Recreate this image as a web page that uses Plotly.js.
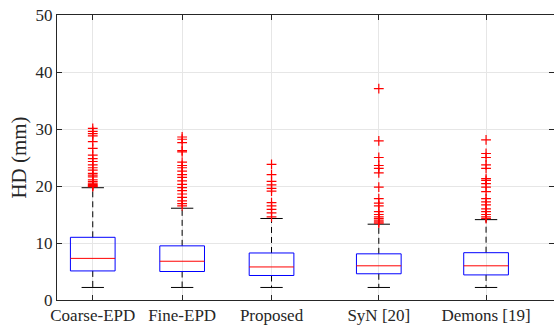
<!DOCTYPE html>
<html>
<head>
<meta charset="utf-8">
<script src="https://cdn.plot.ly/plotly-3.0.1.min.js"></script>
<style>html,body{margin:0;padding:0;background:#fff;}#chart{width:554px;height:326px;}</style>
</head>
<body>
<div id="chart"></div>
<script>
// ---- data ----
const categories = ['Coarse-EPD', 'Fine-EPD', 'Proposed', 'SyN [20]', 'Demons [19]'];
const xPos = [1, 2, 3, 4.2, 5.4];
const q1 = [5.1, 5.0, 4.3, 4.6, 4.4];
const medians = [7.3, 6.8, 5.8, 6.0, 6.0];
const q3 = [11.0, 9.5, 8.25, 8.1, 8.3];
const lowerWhisker = [2.2, 2.2, 2.2, 2.2, 2.2];
const upperWhisker = [19.7, 16.1, 14.3, 13.3, 14.1];
const outliersCoarse = [30.1, 29.6, 29.2, 28.8, 27.8, 26.6, 25.4, 24.8, 24.3, 23.7, 23.2, 22.8, 22.2, 21.9, 21.6, 21.1, 20.8, 20.5, 20.3, 20.1, 20.0, 19.9];
const outliersFine = [28.6, 28.2, 27.6, 26.2, 26.0, 24.2, 23.6, 23.2, 22.6, 22.0, 21.5, 20.9, 20.3, 19.7, 19.2, 18.6, 18.0, 17.4, 16.9, 16.5];
const outliersProposed = [23.8, 22.0, 20.8, 20.2, 19.6, 19.1, 17.1, 16.5, 15.9, 15.3, 14.6];
const outliersSyN = [37.1, 27.9, 25.0, 23.6, 23.1, 22.3, 19.8, 17.8, 17.0, 16.5, 15.5, 15.0, 14.6, 14.3, 14.0, 13.7, 13.5];
const outliersDemons = [28.1, 25.7, 25.0, 23.7, 23.1, 21.3, 21.0, 20.4, 19.8, 19.0, 17.8, 17.2, 16.7, 16.0, 15.5, 15.0, 14.6, 14.3];
const outliers = [outliersCoarse, outliersFine, outliersProposed, outliersSyN, outliersDemons];
const yTicks = [0, 10, 20, 30, 40, 50];

// ---- styles ----
const boxHalf = 0.25, capHalf = 0.125;
const serif = 'Liberation Serif, Times New Roman, serif';
const axisColor = '#262626';

const traces = [];
for (let i = 0; i < categories.length; i++) {
  const x = xPos[i];
  // whiskers (dashed)
  traces.push({x: [x, x, null, x, x], y: [q3[i], upperWhisker[i], null, q1[i], lowerWhisker[i]],
    mode: 'lines', line: {color: '#000', width: 1, dash: '6px,4px'}, hoverinfo: 'skip', showlegend: false});
  // caps
  traces.push({x: [x - capHalf, x + capHalf, null, x - capHalf, x + capHalf],
    y: [upperWhisker[i], upperWhisker[i], null, lowerWhisker[i], lowerWhisker[i]],
    mode: 'lines', line: {color: '#000', width: 1}, hoverinfo: 'skip', showlegend: false});
  // box
  traces.push({x: [x - boxHalf, x + boxHalf, x + boxHalf, x - boxHalf, x - boxHalf],
    y: [q1[i], q1[i], q3[i], q3[i], q1[i]],
    mode: 'lines', line: {color: '#0000ff', width: 1}, hoverinfo: 'skip', showlegend: false});
  // median
  traces.push({x: [x - boxHalf, x + boxHalf], y: [medians[i], medians[i]],
    mode: 'lines', line: {color: '#ff0000', width: 1}, hoverinfo: 'skip', showlegend: false});
  // outliers
  traces.push({x: outliers[i].map(() => x), y: outliers[i], mode: 'markers',
    marker: {symbol: 'cross-thin-open', size: 7, color: '#ff0000', line: {color: '#ff0000', width: 1.2}},
    hoverinfo: 'skip', showlegend: false});
}

const layout = {
  width: 554, height: 326,
  margin: {l: 57, r: 0, t: 15, b: 26, pad: 0},
  paper_bgcolor: '#fff', plot_bgcolor: '#fff',
  showlegend: false,
  xaxis: {
    range: [0.6, 6.16], tickmode: 'array', tickvals: xPos, ticktext: categories,
    showgrid: true, gridcolor: '#e6e6e6', gridwidth: 1, zeroline: false,
    showline: true, linecolor: axisColor, linewidth: 1, mirror: 'ticks',
    ticks: 'inside', ticklen: 5, tickcolor: axisColor,
    tickfont: {family: serif, size: 17, color: axisColor}
  },
  yaxis: {
    range: [0, 50], tickmode: 'array', tickvals: yTicks, ticktext: yTicks.map(String),
    showgrid: true, gridcolor: '#e6e6e6', gridwidth: 1, zeroline: false,
    showline: true, linecolor: axisColor, linewidth: 1, mirror: 'ticks',
    ticks: 'inside', ticklen: 5, tickcolor: axisColor,
    tickfont: {family: serif, size: 17, color: axisColor},
    title: {text: 'HD (mm)', font: {family: serif, size: 21, color: axisColor}, standoff: 3}
  }
};

Plotly.newPlot('chart', traces, layout, {staticPlot: true, displayModeBar: false});
</script>
</body>
</html>
